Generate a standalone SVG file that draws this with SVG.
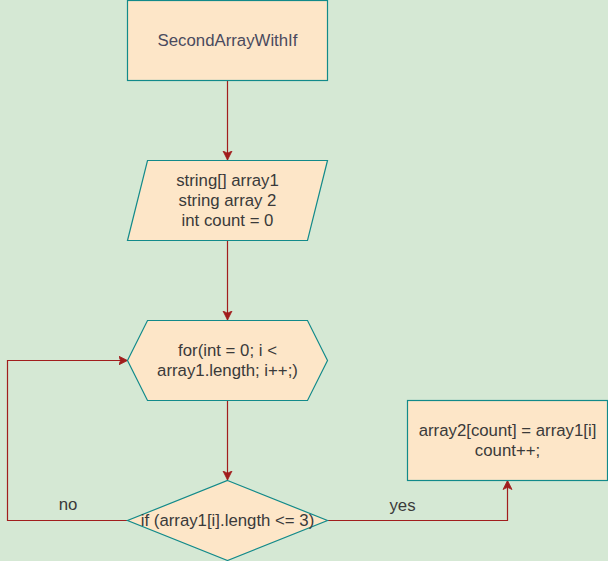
<svg xmlns="http://www.w3.org/2000/svg" width="608" height="561" viewBox="0 0 608 561">
  <style>
    .node { fill: #fde6c8; stroke: #128a8a; stroke-width: 1.2; }
    .lbl { font-family: "Liberation Sans", Arial, Helvetica, sans-serif; font-size: 16.8px; fill: #3a3a3a; text-anchor: middle; }
    .title { fill: #4a4a5e; }
    .edge { fill: none; stroke: #a11d1d; stroke-width: 1.2; }
  </style>
  <defs>
    <marker id="arrow" markerUnits="userSpaceOnUse" markerWidth="12" markerHeight="12" refX="9" refY="5" orient="auto" viewBox="0 0 12 10">
      <path d="M0,0.5 L9,5 L0,9.5 L2.2,5 Z" fill="#a11d1d" stroke="#a11d1d" stroke-width="0.8"/>
    </marker>
  </defs>
  <rect width="608" height="561" fill="#d5e8d4"/>

  <g id="connectors">
    <path class="edge" d="M227.5,80.5 L227.5,160" marker-end="url(#arrow)"/>
    <path class="edge" d="M227.5,240.5 L227.5,320" marker-end="url(#arrow)"/>
    <path class="edge" d="M227.5,400.5 L227.5,480" marker-end="url(#arrow)"/>
    <path class="edge" d="M127.5,520.5 L7.5,520.5 L7.5,360.5 L127.5,360.5" marker-end="url(#arrow)"/>
    <path class="edge" d="M327.5,520.5 L507.5,520.5 L507.5,480.5" marker-end="url(#arrow)"/>
    <text class="lbl" x="68" y="510">no</text>
    <text class="lbl" x="402.5" y="510.5">yes</text>
  </g>

  <g id="start">
    <rect class="node" x="127.5" y="0.5" width="200" height="80"/>
    <text class="lbl title" x="227.5" y="45.5">SecondArrayWithIf</text>
  </g>

  <g id="input">
    <polygon class="node" points="147.5,160.5 327.5,160.5 307.5,240.5 127.5,240.5"/>
    <text class="lbl" x="227.5" y="185.5">string[] array1</text>
    <text class="lbl" x="227.5" y="205.5">string array 2</text>
    <text class="lbl" x="227.5" y="225.5">int count = 0</text>
  </g>

  <g id="loop">
    <polygon class="node" points="127.5,360.5 147.5,320.5 307.5,320.5 327.5,360.5 307.5,400.5 147.5,400.5"/>
    <text class="lbl" x="227.5" y="355.5">for(int = 0; i &lt;</text>
    <text class="lbl" x="227.5" y="375.5">array1.length; i++;)</text>
  </g>

  <g id="condition">
    <polygon class="node" points="227.5,480.5 327.5,520.5 227.5,560.5 127.5,520.5"/>
    <text class="lbl" x="227.5" y="525.5">if (array1[i].length &lt;= 3)</text>
  </g>

  <g id="assign">
    <rect class="node" x="407.5" y="400.5" width="200" height="80"/>
    <text class="lbl" x="507.5" y="435.5">array2[count] = array1[i]</text>
    <text class="lbl" x="507.5" y="455.5">count++;</text>
  </g>
</svg>
